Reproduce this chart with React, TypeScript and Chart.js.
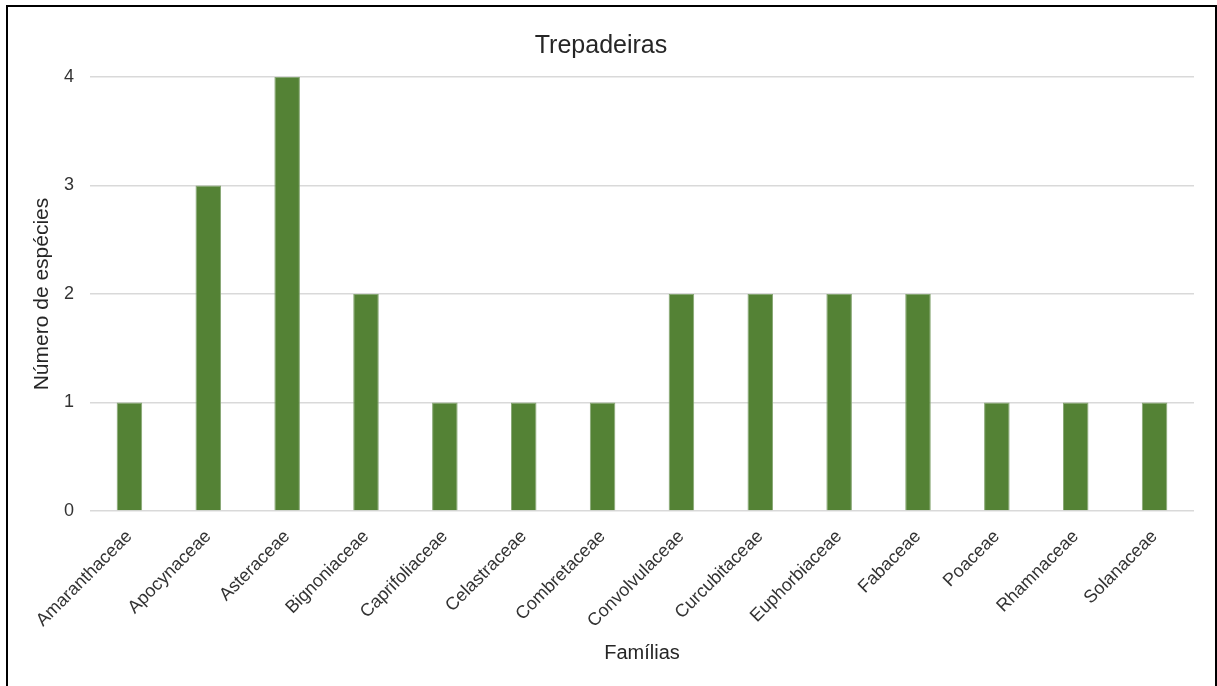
import React, { useEffect, useRef } from "react";
import { Chart, registerables } from "chart.js";

Chart.register(...registerables);

// Climbing-plant families and species counts
const families = [
  "Amaranthaceae",
  "Apocynaceae",
  "Asteraceae",
  "Bignoniaceae",
  "Caprifoliaceae",
  "Celastraceae",
  "Combretaceae",
  "Convolvulaceae",
  "Curcubitaceae",
  "Euphorbiaceae",
  "Fabaceae",
  "Poaceae",
  "Rhamnaceae",
  "Solanaceae",
];
const speciesCount = [1, 3, 4, 2, 1, 1, 1, 2, 2, 2, 2, 1, 1, 1];
const yMin = 0;
const yMax = 4;
const yStep = 1;

const chartTitle = "Trepadeiras";
const xTitle = "Famílias";
const yTitle = "Número de espécies";

const FONT = "'Liberation Sans', Arial, sans-serif";
const CANVAS_W = 1207;
const CANVAS_H = 679;

export default function App() {
  const canvasRef = useRef<HTMLCanvasElement | null>(null);

  useEffect(() => {
    const canvas = canvasRef.current;
    if (!canvas) return;
    const chart = new Chart(canvas, {
      type: "bar",
      data: {
        labels: families,
        datasets: [
          {
            label: yTitle,
            data: speciesCount,
            backgroundColor: "#548235",
            borderColor: "#86a673",
            borderWidth: 1,
            categoryPercentage: 1,
            barPercentage: 0.324,
          },
        ],
      },
      options: {
        responsive: false,
        animation: false,
        devicePixelRatio: 1,
        layout: { padding: { left: 0, right: 21, top: 0, bottom: 0 } },
        plugins: {
          legend: { display: false },
          tooltip: { enabled: false },
          title: {
            display: true,
            text: chartTitle,
            color: "#262626",
            font: { family: FONT, size: 25, weight: "normal" },
            padding: { top: 24, bottom: 16 },
          },
        },
        scales: {
          x: {
            grid: { display: false, drawTicks: false },
            border: { display: false },
            ticks: {
              color: "#333333",
              font: { family: FONT, size: 18 },
              minRotation: 45,
              maxRotation: 45,
              autoSkip: false,
              padding: 15,
            },
            title: {
              display: true,
              text: xTitle,
              color: "#262626",
              font: { family: FONT, size: 20 },
              padding: { top: 0, bottom: 21 },
            },
            afterFit: (scale: any) => {
              scale.height = 175;
            },
          },
          y: {
            min: yMin,
            max: yMax,
            grid: { color: "#d9d9d9", lineWidth: 1.5, drawTicks: false },
            border: { display: false },
            ticks: {
              stepSize: yStep,
              color: "#333333",
              font: { family: FONT, size: 18 },
              padding: 16,
            },
            title: {
              display: true,
              text: yTitle,
              color: "#262626",
              font: { family: FONT, size: 21 },
              padding: { top: 22, bottom: 8 },
            },
            afterFit: (scale: any) => {
              scale.width = 82;
            },
          },
        },
      },
    });
    return () => chart.destroy();
  }, []);

  return (
    <div
      style={{
        position: "fixed",
        left: 6,
        top: 5,
        width: CANVAS_W,
        height: CANVAS_H + 10,
        borderLeft: "2px solid #000",
        borderTop: "2px solid #000",
        borderRight: "2px solid #000",
        background: "#fff",
      }}
    >
      <canvas
        ref={canvasRef}
        width={CANVAS_W}
        height={CANVAS_H}
        style={{ display: "block", width: CANVAS_W, height: CANVAS_H }}
      />
    </div>
  );
}
